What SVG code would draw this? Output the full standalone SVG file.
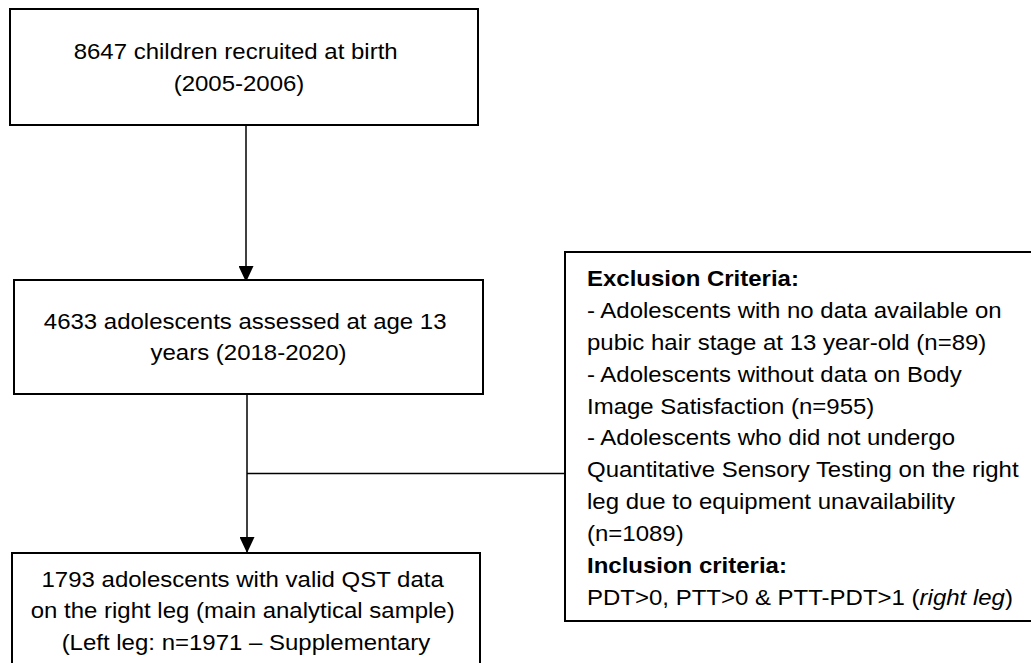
<svg xmlns="http://www.w3.org/2000/svg" width="1031" height="663" viewBox="0 0 1031 663">
  <style>
    .box { fill: #ffffff; stroke: #000000; stroke-width: 2; }
    .conn { fill: none; stroke: #000000; stroke-width: 1.5; }
    .t { font-family: "Liberation Sans", Arial, sans-serif; font-size: 24px; fill: #000000; }
    .c { text-anchor: middle; }
    .b { font-weight: bold; }
    .i { font-style: italic; }
  </style>
  <defs>
    <marker id="arrow" markerUnits="userSpaceOnUse" markerWidth="16" markerHeight="15" refX="16" refY="7.5" orient="auto">
      <path d="M0,0 L16,7.5 L0,15 Z" fill="#000000"/>
    </marker>
  </defs>
  <rect width="1031" height="663" fill="#ffffff"/>

  <g id="connectors">
    <line class="conn" x1="246" y1="125" x2="246" y2="282" marker-end="url(#arrow)"/>
    <line class="conn" x1="247" y1="394" x2="247" y2="553" marker-end="url(#arrow)"/>
    <line class="conn" x1="247" y1="473.5" x2="565" y2="473.5"/>
  </g>

  <g id="node-recruited">
    <rect class="box" x="10" y="9" width="468" height="116"/>
    <text class="t c" transform="translate(0,59) scale(1,0.92)">
      <tspan x="239" y="0">8647 children recruited at birth</tspan>
      <tspan x="239" dy="34.78">(2005-2006)</tspan>
    </text>
  </g>

  <g id="node-assessed">
    <rect class="box" x="14" y="280" width="469" height="114"/>
    <text class="t c" transform="translate(0,329) scale(1,0.92)">
      <tspan x="248.5" y="0">4633 adolescents assessed at age 13</tspan>
      <tspan x="248.5" dy="34.24">years (2018-2020)</tspan>
    </text>
  </g>

  <g id="node-sample">
    <rect class="box" x="12" y="553" width="468" height="130"/>
    <text class="t c" transform="translate(0,586.5) scale(1,0.92)">
      <tspan x="246" y="0">1793 adolescents with valid QST data</tspan>
      <tspan x="246" dy="34.5">on the right leg (main analytical sample)</tspan>
      <tspan x="246" dy="34.5">(Left leg: n=1971 – Supplementary</tspan>
    </text>
  </g>

  <g id="node-criteria">
    <rect class="box" x="565" y="252" width="480" height="369"/>
    <text class="t" transform="translate(0,286) scale(1,0.92)">
      <tspan x="587" y="0" class="b">Exclusion Criteria:</tspan>
      <tspan x="587" dy="34.67">- Adolescents with no data available on</tspan>
      <tspan x="587" dy="34.67">pubic hair stage at 13 year-old (n=89)</tspan>
      <tspan x="587" dy="34.67">- Adolescents without data on Body</tspan>
      <tspan x="587" dy="34.67">Image Satisfaction (n=955)</tspan>
      <tspan x="587" dy="34.67">- Adolescents who did not undergo</tspan>
      <tspan x="587" dy="34.67">Quantitative Sensory Testing on the right</tspan>
      <tspan x="587" dy="34.67">leg due to equipment unavailability</tspan>
      <tspan x="587" dy="34.67">(n=1089)</tspan>
      <tspan x="587" dy="34.67" class="b">Inclusion criteria:</tspan>
      <tspan x="587" dy="34.67">PDT&gt;0, PTT&gt;0 &amp; PTT-PDT&gt;1 (<tspan class="i">right leg</tspan>)</tspan>
    </text>
  </g>
</svg>
